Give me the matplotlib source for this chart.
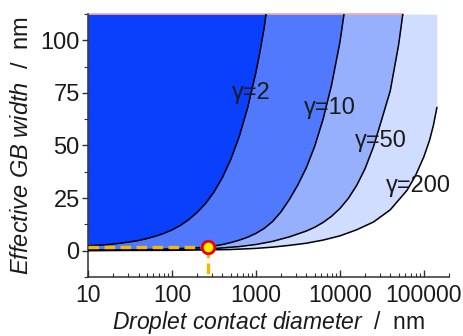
import matplotlib
matplotlib.use("Agg")
import matplotlib.pyplot as plt
from matplotlib.ticker import FixedLocator, LogLocator, MultipleLocator, NullFormatter

plt.rcParams['font.family'] = ['Liberation Sans', 'DejaVu Sans']
plt.rcParams['mathtext.fontset'] = 'custom'
plt.rcParams['mathtext.rm'] = 'Liberation Sans'
plt.rcParams['mathtext.it'] = 'Liberation Sans:italic'

# Effective GB width (nm) vs droplet contact diameter (nm), one curve per gamma
d_g2 = [10, 15, 20, 30, 40, 50, 63, 79, 100, 126, 158, 200, 251, 316, 398, 501, 631, 794,
        1000, 1120, 1259, 1320]
w_g2 = [2.3, 2.7, 3.1, 4.0, 4.8, 5.7, 6.8, 8.1, 9.8, 12.0, 14.7, 18.2, 22.4, 27.8, 34.7, 43.3,
        54.1, 67.7, 84.8, 94.8, 106.4, 112.5]

d_g10 = [10, 30, 100, 200, 270, 400, 500, 631, 794, 1000, 1259, 1585, 1995, 2512, 3162, 3981,
         5012, 6310, 7943, 10000, 11200]
w_g10 = [0.2, 0.3, 0.8, 1.35, 1.75, 2.9, 3.8, 4.95, 6.35, 8.2, 10.6, 13.9, 18.5, 24.4, 31.3,
         39.4, 49.6, 62.5, 78.6, 99, 112.5]

d_g50 = [10, 100, 300, 631, 1000, 1585, 2512, 3981, 5012, 6310, 7943, 10000, 12589, 15849,
         19953, 25119, 31623, 39811, 50119, 56200]
w_g50 = [0.05, 0.3, 0.9, 1.9, 2.9, 4.4, 6.55, 9.3, 11.1, 13.4, 16.3, 20, 24.8, 31, 39, 49.4,
         62.6, 76, 98, 112.5]

d_g200 = [10, 100, 500, 1000, 1585, 2512, 3981, 6310, 10000, 15849, 25119, 39811, 63096, 79433,
          100000, 117000, 130000, 143000]
w_g200 = [0.03, 0.12, 0.5, 1.05, 1.65, 2.5, 3.5, 5.0, 7.0, 9.9, 13.6, 19.4, 28.7, 35.6, 44.6,
          52.5, 59.6, 68]

gammas = ["γ=2", "γ=10", "γ=50", "γ=200"]
label_pos = [(870, 75), (7600, 68), (30900, 52), (85300, 30.5)]
fill_colors = ["#0a40fb", "#5079fe", "#96b0fd", "#d0ddff"]

# measured point
d_pt = 270
w_pt = 1.7

y_top = 112.5
y_bot = -12.5

curves = [(d_g2, w_g2), (d_g10, w_g10), (d_g50, w_g50), (d_g200, w_g200)]

fig = plt.figure(figsize=(4.63, 3.36), dpi=100)
ax = fig.add_axes([0.190, 0.176, 0.780, 0.782])

# fill from the widest (lightest) region to the narrowest (darkest)
for (d, w), c in reversed(list(zip(curves, fill_colors))):
    ax.fill_between(d, w, y_top, color=c, lw=0, zorder=1)

for d, w in curves:
    ax.plot(d, w, color='black', lw=1.1, zorder=3)

# thin line along the top edge of the filled area
ax.plot([d_g2[0], d_g50[-1]], [y_top, y_top], color='#f3a3a3', lw=1.2, zorder=2,
        clip_on=False)

for txt, (x, y) in zip(gammas, label_pos):
    ax.text(x, y, txt, fontsize=17, color='#1a1a1a', ha='center', va='center', zorder=4)

ax.plot([d_g2[0], d_pt], [w_pt, w_pt], color='#f6b800', lw=2.4, ls=(0, (3.2, 1.6)), zorder=5)
ax.plot([d_pt, d_pt], [w_pt, y_bot], color='#f6b800', lw=2.4, ls=(0, (3.2, 1.6)), zorder=5,
        clip_on=False)
ax.plot([d_pt], [w_pt], marker='o', ms=9, mfc='#ffee00', mec='#e8000b', mew=2, zorder=6)

ax.set_xscale('log')
ax.set_xlim(10, 2e5)
ax.set_ylim(y_bot, y_top)

ax.xaxis.set_major_locator(FixedLocator([10, 100, 1000, 10000, 100000]))
ax.set_xticklabels(["10", "100", "1000", "10000", "100000"])
ax.xaxis.set_minor_locator(LogLocator(base=10, subs=range(2, 10), numticks=20))
ax.xaxis.set_minor_formatter(NullFormatter())
ax.yaxis.set_major_locator(FixedLocator([0, 25, 50, 75, 100]))
ax.yaxis.set_minor_locator(MultipleLocator(12.5))

for s in ['top', 'right']:
    ax.spines[s].set_visible(False)
for s in ['left', 'bottom']:
    ax.spines[s].set_linewidth(1.1)
    ax.spines[s].set_color('#303030')

ax.tick_params(axis='x', which='major', direction='in', length=5, width=1, labelsize=16.5,
               pad=5, colors='#303030', labelcolor='#1a1a1a')
ax.tick_params(axis='x', which='minor', direction='in', length=3, width=0.8, colors='#303030')
ax.tick_params(axis='y', which='major', direction='out', length=4, width=1, labelsize=17,
               pad=2, colors='#303030', labelcolor='#1a1a1a')
ax.tick_params(axis='y', which='minor', direction='out', length=3, width=0.8, colors='#303030')

ax.set_xlabel(r'$\mathit{Droplet\ contact\ diameter}$  /  nm', fontsize=16.5, color='#1a1a1a',
              labelpad=1.5)
ax.set_ylabel(r'$\mathit{Effective\ GB\ width}$  /  nm', fontsize=17, color='#1a1a1a',
              labelpad=5)

fig.savefig("out.png", dpi=100)
